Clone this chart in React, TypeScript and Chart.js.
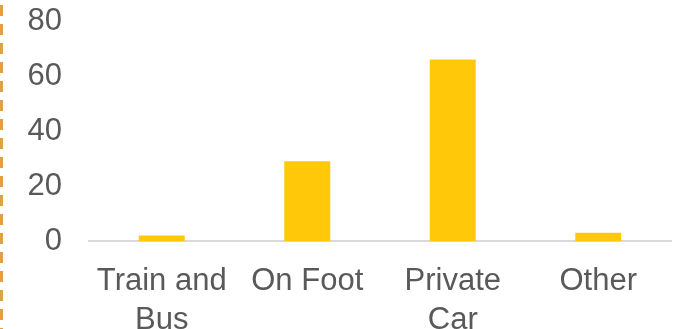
import React, { useEffect, useRef } from "react";
import { Chart, registerables } from "chart.js";

Chart.register(...registerables);

const categories: (string | string[])[] = [["Train and", "Bus"], "On Foot", ["Private", "Car"], "Other"];
const values: number[] = [2, 29, 66, 3];
const yTicks: number[] = [0, 20, 40, 60, 80];

const TEXT = "#595959";
const FONT = "'Liberation Sans', Arial, sans-serif";

const dashedEdge = {
  id: "dashedEdge",
  afterDraw(chart: any) {
    const ctx = chart.ctx;
    ctx.save();
    ctx.strokeStyle = "#E0A048";
    ctx.lineWidth = 3;
    ctx.setLineDash([11, 8]);
    ctx.beginPath();
    ctx.moveTo(1.5, 5);
    ctx.lineTo(1.5, chart.height);
    ctx.stroke();
    ctx.restore();
  },
};

export default function App() {
  const ref = useRef<HTMLCanvasElement | null>(null);
  useEffect(() => {
    if (!ref.current) return;
    const chart = new Chart(ref.current, {
      type: "bar",
      data: {
        labels: categories,
        datasets: [
          {
            data: values,
            backgroundColor: "#FFC90A",
            barPercentage: 0.316,
            categoryPercentage: 1,
          },
        ],
      },
      plugins: [dashedEdge],
      options: {
        animation: false,
        responsive: false,
        maintainAspectRatio: false,
        layout: { padding: { left: 0, top: 21, right: 8, bottom: 0 } },
        plugins: { legend: { display: false }, tooltip: { enabled: false } },
        scales: {
          x: {
            grid: { display: false, drawTicks: false },
            border: { display: true, color: "#D9D9D9", width: 2 },
            ticks: {
              color: TEXT,
              font: { family: FONT, size: 31, lineHeight: 1.25 },
              padding: 21,
              maxRotation: 0,
              autoSkip: false,
            },
            afterFit: (scale: any) => {
              scale.height = 88;
              scale.paddingLeft = 0;
              scale.paddingRight = 0;
            },
          },
          y: {
            min: 0,
            max: 80,
            grid: { display: false, drawTicks: false },
            border: { display: false },
            afterBuildTicks: (scale: any) => {
              scale.ticks = yTicks.map((v) => ({ value: v }));
            },
            afterFit: (scale: any) => {
              scale.width = 89;
              scale.paddingTop = 0;
              scale.paddingBottom = 0;
            },
            ticks: {
              color: TEXT,
              font: { family: FONT, size: 31, lineHeight: 1.2 },
              padding: 27,
            },
          },
        },
      },
    });
    return () => chart.destroy();
  }, []);
  return (
    <div style={{ position: "fixed", left: 0, top: 0, width: 679, height: 329, overflow: "hidden", background: "#fff" }}>
      <canvas ref={ref} width={679} height={329} style={{ display: "block" }} />
    </div>
  );
}
